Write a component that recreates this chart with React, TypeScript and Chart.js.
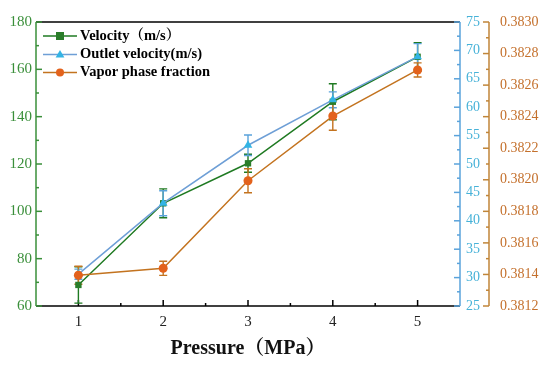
import React, { useEffect, useRef } from 'react';
import { Chart, registerables } from 'chart.js';

Chart.register(...registerables);

const pressure = [1, 2, 3, 4, 5];
const velocity = [68.9, 103.4, 120.3, 146.3, 165.3];
const velocityErr = [7.7, 6.1, 3.8, 7.6, 6.0];
const outletVelocity = [30.6, 43.1, 53.3, 61.3, 68.9];
const outletErr = [0.9, 2.2, 1.8, 1.4, 2.3];
const vaporFraction = [0.381395, 0.381439, 0.381994, 0.382404, 0.382696];
const vaporErr = [0.000057, 0.000045, 0.000076, 0.00009, 0.000045];

const xTicks = [1, 2, 3, 4, 5];
const xMinor = [1.5, 2.5, 3.5, 4.5];
const leftTicks = [60, 80, 100, 120, 140, 160, 180];
const leftMinor = [70, 90, 110, 130, 150, 170];
const blueTicks = [25, 30, 35, 40, 45, 50, 55, 60, 65, 70, 75];
const blueMinor = [27.5, 32.5, 37.5, 42.5, 47.5, 52.5, 57.5, 62.5, 67.5, 72.5];
const orangeTicks = ['0.3812', '0.3814', '0.3816', '0.3818', '0.3820', '0.3822', '0.3824', '0.3826', '0.3828', '0.3830'];
const orangeMinor = ['0.3813', '0.3815', '0.3817', '0.3819', '0.3821', '0.3823', '0.3825', '0.3827', '0.3829'];

const seriesNames = ['Velocity（m/s）', 'Outlet velocity(m/s)', 'Vapor phase fraction'];

const SERIF = "'Times New Roman', 'Liberation Serif', 'Noto Serif CJK SC', 'Noto Sans CJK SC', serif";

const C = {
  greenLine: '#1f7a22',
  greenMarker: '#2a7d2a',
  greenAxis: '#3a8f3a',
  blueLine: '#6e9fd6',
  blueMarker: '#33b4e4',
  blueAxis: '#5aa3db',
  blueLabel: '#47b2d8',
  orangeLine: '#c3731f',
  orangeMarker: '#e3621c',
  orangeAxis: '#c08538',
  orangeLabel: '#c4702c',
};

function drawMarker(ctx: CanvasRenderingContext2D, kind: string, x: number, y: number, r: number, color: string) {
  ctx.save();
  ctx.fillStyle = color;
  ctx.beginPath();
  if (kind === 'rect') {
    ctx.rect(x - r, y - r, 2 * r, 2 * r);
  } else if (kind === 'triangle') {
    ctx.moveTo(x, y - r * 1.15);
    ctx.lineTo(x + r * 1.1, y + r * 0.75);
    ctx.lineTo(x - r * 1.1, y + r * 0.75);
    ctx.closePath();
  } else {
    ctx.arc(x, y, r, 0, Math.PI * 2);
  }
  ctx.fill();
  ctx.restore();
}

const customPlugin = {
  id: 'customDecor',
  beforeDatasetsDraw(chart: any) {
    const ctx: CanvasRenderingContext2D = chart.ctx;
    const { x: xs, y: ys, y1, y2 } = chart.scales;
    const area = chart.chartArea;
    ctx.save();
    ctx.lineCap = 'butt';
    ctx.strokeStyle = '#000';
    ctx.lineWidth = 1.5;
    ctx.beginPath();
    ctx.moveTo(area.left, area.top);
    ctx.lineTo(area.right, area.top);
    ctx.stroke();
    ctx.beginPath();
    ctx.moveTo(area.left, area.bottom);
    ctx.lineTo(area.right, area.bottom);
    ctx.stroke();
    xTicks.forEach((v) => {
      const p = xs.getPixelForValue(v);
      ctx.beginPath(); ctx.moveTo(p, area.bottom); ctx.lineTo(p, area.bottom - 6); ctx.stroke();
    });
    xMinor.forEach((v) => {
      const p = xs.getPixelForValue(v);
      ctx.beginPath(); ctx.moveTo(p, area.bottom); ctx.lineTo(p, area.bottom - 3); ctx.stroke();
    });
    ctx.strokeStyle = C.greenAxis;
    ctx.beginPath(); ctx.moveTo(area.left, area.top); ctx.lineTo(area.left, area.bottom); ctx.stroke();
    leftTicks.forEach((v) => {
      const p = ys.getPixelForValue(v);
      ctx.beginPath(); ctx.moveTo(area.left, p); ctx.lineTo(area.left + 6, p); ctx.stroke();
    });
    leftMinor.forEach((v) => {
      const p = ys.getPixelForValue(v);
      ctx.beginPath(); ctx.moveTo(area.left, p); ctx.lineTo(area.left + 3, p); ctx.stroke();
    });
    const bx = y1.left;
    ctx.strokeStyle = C.blueAxis;
    ctx.beginPath(); ctx.moveTo(bx, area.top); ctx.lineTo(bx, area.bottom); ctx.stroke();
    blueTicks.forEach((v) => {
      const p = y1.getPixelForValue(v);
      ctx.beginPath(); ctx.moveTo(bx, p); ctx.lineTo(bx - 6, p); ctx.stroke();
    });
    blueMinor.forEach((v) => {
      const p = y1.getPixelForValue(v);
      ctx.beginPath(); ctx.moveTo(bx, p); ctx.lineTo(bx - 3, p); ctx.stroke();
    });
    const ox = y2.left;
    ctx.strokeStyle = C.orangeAxis;
    ctx.beginPath(); ctx.moveTo(ox, area.top); ctx.lineTo(ox, area.bottom); ctx.stroke();
    orangeTicks.forEach((s) => {
      const p = y2.getPixelForValue(Number(s));
      ctx.beginPath(); ctx.moveTo(ox, p); ctx.lineTo(ox - 6, p); ctx.stroke();
    });
    orangeMinor.forEach((s) => {
      const p = y2.getPixelForValue(Number(s));
      ctx.beginPath(); ctx.moveTo(ox, p); ctx.lineTo(ox - 3, p); ctx.stroke();
    });

    const drawErr = (scale: any, vals: number[], errs: number[], color: string) => {
      ctx.strokeStyle = color;
      ctx.lineWidth = 1.4;
      vals.forEach((v, i) => {
        const px = xs.getPixelForValue(pressure[i]);
        const t = scale.getPixelForValue(v + errs[i]);
        const b = scale.getPixelForValue(v - errs[i]);
        ctx.beginPath();
        ctx.moveTo(px, t); ctx.lineTo(px, b);
        ctx.moveTo(px - 4, t); ctx.lineTo(px + 4, t);
        ctx.moveTo(px - 4, b); ctx.lineTo(px + 4, b);
        ctx.stroke();
      });
    };
    drawErr(ys, velocity, velocityErr, C.greenLine);
    drawErr(y1, outletVelocity, outletErr, C.blueAxis);
    drawErr(y2, vaporFraction, vaporErr, C.orangeLine);
    ctx.restore();
  },
  afterDraw(chart: any) {
    const ctx: CanvasRenderingContext2D = chart.ctx;
    const rows = [
      { y: 36, line: C.greenLine, marker: C.greenMarker, kind: 'rect' },
      { y: 54.5, line: C.blueLine, marker: C.blueMarker, kind: 'triangle' },
      { y: 72.5, line: C.orangeLine, marker: C.orangeMarker, kind: 'circle' },
    ];
    ctx.save();
    rows.forEach((r, i) => {
      ctx.strokeStyle = r.line;
      ctx.lineWidth = 1.5;
      ctx.beginPath(); ctx.moveTo(43, r.y); ctx.lineTo(77, r.y); ctx.stroke();
      drawMarker(ctx, r.kind, 60, r.y, 4, r.marker);
      ctx.fillStyle = '#000';
      ctx.font = `bold 14.5px ${SERIF}`;
      ctx.textAlign = 'left';
      ctx.textBaseline = 'middle';
      ctx.fillText(seriesNames[i], 80, r.y);
    });
    ctx.restore();
  },
};

export default function App() {
  const ref = useRef<HTMLCanvasElement | null>(null);
  useEffect(() => {
    document.body.style.margin = '0';
    const canvas = ref.current;
    if (!canvas) return;
    const noGrid = { display: false, drawTicks: false, drawOnChartArea: false };
    const chart = new Chart(canvas, {
      type: 'line',
      data: {
        datasets: [
          {
            label: seriesNames[0],
            data: pressure.map((p, i) => ({ x: p, y: velocity[i] })),
            yAxisID: 'y',
            borderColor: C.greenLine,
            backgroundColor: C.greenMarker,
            borderWidth: 1.5,
            pointStyle: 'rect',
            pointRadius: 4.5,
            pointBorderWidth: 0,
            pointBackgroundColor: C.greenMarker,
            order: 3,
          },
          {
            label: seriesNames[1],
            data: pressure.map((p, i) => ({ x: p, y: outletVelocity[i] })),
            yAxisID: 'y1',
            borderColor: C.blueLine,
            backgroundColor: C.blueMarker,
            borderWidth: 1.5,
            pointStyle: 'triangle',
            pointRadius: 5,
            pointBorderWidth: 0,
            pointBackgroundColor: C.blueMarker,
            order: 2,
          },
          {
            label: seriesNames[2],
            data: pressure.map((p, i) => ({ x: p, y: vaporFraction[i] })),
            yAxisID: 'y2',
            borderColor: C.orangeLine,
            backgroundColor: C.orangeMarker,
            borderWidth: 1.5,
            pointStyle: 'circle',
            pointRadius: 4.5,
            pointBorderWidth: 0,
            pointBackgroundColor: C.orangeMarker,
            order: 1,
          },
        ],
      },
      options: {
        responsive: false,
        animation: false,
        devicePixelRatio: 1,
        layout: { padding: { top: 22, right: 0, bottom: 0, left: 0 } },
        plugins: { legend: { display: false }, tooltip: { enabled: false } },
        scales: {
          x: {
            type: 'linear',
            min: 0.5,
            max: 5.5,
            grid: noGrid,
            border: { display: false },
            afterBuildTicks: (s: any) => { s.ticks = xTicks.map((v) => ({ value: v })); },
            afterFit: (s: any) => { s.height = 59; },
            ticks: {
              padding: 7,
              color: '#222',
              font: { family: SERIF, size: 15 },
              callback: (v: any) => String(v),
            },
            title: {
              display: true,
              text: 'Pressure（MPa）',
              color: '#111',
              font: { family: SERIF, size: 20, weight: 'bold' },
              padding: { top: 0, bottom: 4 },
            },
          },
          y: {
            type: 'linear',
            position: 'left',
            min: 60,
            max: 180,
            grid: noGrid,
            border: { display: false },
            afterBuildTicks: (s: any) => { s.ticks = leftTicks.map((v) => ({ value: v })); },
            afterFit: (s: any) => { s.width = 36; },
            ticks: {
              padding: 4,
              color: C.greenAxis,
              font: { family: SERIF, size: 15 },
              callback: (v: any) => String(v),
            },
          },
          y1: {
            type: 'linear',
            position: 'right',
            weight: 1,
            min: 25,
            max: 75,
            grid: noGrid,
            border: { display: false },
            afterBuildTicks: (s: any) => { s.ticks = blueTicks.map((v) => ({ value: v })); },
            afterFit: (s: any) => { s.width = 29; },
            ticks: {
              padding: 6,
              color: C.blueLabel,
              font: { family: SERIF, size: 14 },
              callback: (v: any) => String(v),
            },
          },
          y2: {
            type: 'linear',
            position: 'right',
            weight: 2,
            min: Number(orangeTicks[0]),
            max: Number(orangeTicks[orangeTicks.length - 1]),
            grid: noGrid,
            border: { display: false },
            afterBuildTicks: (s: any) => { s.ticks = orangeTicks.map((v) => ({ value: Number(v) })); },
            afterFit: (s: any) => { s.width = 61; },
            ticks: {
              padding: 11,
              color: C.orangeLabel,
              font: { family: SERIF, size: 14 },
              callback: (v: any) => Number(v).toFixed(4),
            },
          },
        },
      } as any,
      plugins: [customPlugin],
    });
    return () => chart.destroy();
  }, []);
  return (
    <div style={{ position: 'absolute', left: 0, top: 0, width: 550, height: 365, background: '#fff' }}>
      <canvas ref={ref} width={550} height={365} style={{ width: 550, height: 365, display: 'block' }} />
    </div>
  );
}
